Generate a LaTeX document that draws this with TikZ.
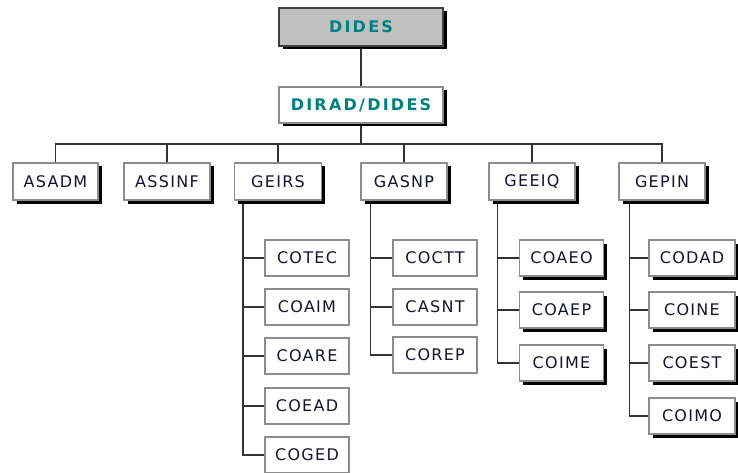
\documentclass[tikz,border=0pt]{standalone}
\usepackage{fontspec}
\setmainfont{DejaVu Sans}[LetterSpace=8]
\newfontfamily\boldsp{DejaVu Sans Bold}[LetterSpace=14]
\usetikzlibrary{shadows,backgrounds,calc}
\definecolor{tealtxt}{RGB}{0,128,128}
\definecolor{boxline}{RGB}{140,140,140}
\definecolor{txtdark}{RGB}{20,20,50}
\definecolor{topfill}{RGB}{192,192,192}
\begin{document}
\begin{tikzpicture}[x=1pt,y=-1pt,
  box/.style={draw=boxline,line width=1.2pt,fill=white,inner sep=0pt,
    text=txtdark,font=\fontsize{16}{18}\selectfont},
  shbox/.style={box,drop shadow={shadow xshift=3.5pt,shadow yshift=-3.5pt,fill=black,opacity=1}},
  lvl/.style={minimum width=86pt,minimum height=37pt},
  kid/.style={minimum width=84pt,minimum height=36pt},
  conn/.style={draw=black!80,line width=1.2pt}]
\useasboundingbox (0,0) rectangle (738,473);
% top
\node[shbox,fill=topfill,draw=black!75,minimum width=164pt,minimum height=38pt,
  text=tealtxt,font=\fontsize{16}{18}\boldsp] (DIDES) at (361,27) {DIDES};
\node[shbox,minimum width=164pt,minimum height=36pt,
  text=tealtxt,font=\fontsize{16}{18}\boldsp] (DIRAD) at (361,105) {DIRAD/DIDES};
% level 2
\node[shbox,lvl,minimum width=85pt] (ASADM) at (55.5,181.5) {ASADM};
\node[shbox,lvl] (ASSINF) at (167,181.5) {ASSINF};
\node[shbox,lvl,minimum width=87pt] (GEIRS) at (278,181.5) {GEIRS};
\node[shbox,lvl] (GASNP) at (404,181.5) {GASNP};
\node[shbox,lvl] (GEEIQ) at (532,181.5) {GEEIQ};
\node[shbox,lvl] (GEPIN) at (662,181.5) {GEPIN};
% GEIRS children
\node[box,kid] (COTEC) at (307,258) {COTEC};
\node[box,kid] (COAIM) at (307,307) {COAIM};
\node[box,kid] (COARE) at (307,356) {COARE};
\node[box,kid] (COEAD) at (307,406) {COEAD};
\node[box,kid] (COGED) at (307,455) {COGED};
% GASNP children
\node[box,kid] (COCTT) at (435,258) {COCTT};
\node[box,kid] (CASNT) at (435,307) {CASNT};
\node[box,kid] (COREP) at (435,355) {COREP};
% GEEIQ children
\node[shbox,kid] (COAEO) at (561.5,258) {COAEO};
\node[shbox,kid] (COAEP) at (561.5,310) {COAEP};
\node[shbox,kid] (COIME) at (561.5,363) {COIME};
% GEPIN children
\node[shbox,kid,minimum width=86pt] (CODAD) at (692,258) {CODAD};
\node[shbox,kid,minimum width=86pt] (COINE) at (692,310) {COINE};
\node[shbox,kid,minimum width=86pt] (COEST) at (692,363) {COEST};
\node[shbox,kid,minimum width=86pt] (COIMO) at (692,416) {COIMO};
\begin{scope}[on background layer]
\coordinate (bus) at (361,144);
\draw[conn] (DIDES.south) -- (DIRAD.north);
\draw[conn] (DIRAD.south) -- (bus);
\foreach \n in {ASADM,ASSINF,GEIRS,GASNP,GEEIQ,GEPIN}
  \draw[conn] (\n.north) |- (bus);
\coordinate (t1) at ($(GEIRS.south west)+(9,0)$);
\foreach \n in {COTEC,COAIM,COARE,COEAD,COGED} \draw[conn] (t1) |- (\n.west);
\coordinate (t2) at ($(GASNP.south west)+(10,0)$);
\foreach \n in {COCTT,CASNT,COREP} \draw[conn] (t2) |- (\n.west);
\coordinate (t3) at ($(GEEIQ.south west)+(9,0)$);
\foreach \n in {COAEO,COAEP,COIME} \draw[conn] (t3) |- (\n.west);
\coordinate (t4) at ($(GEPIN.south west)+(11,0)$);
\foreach \n in {CODAD,COINE,COEST,COIMO} \draw[conn] (t4) |- (\n.west);
\end{scope}
\end{tikzpicture}
\end{document}
